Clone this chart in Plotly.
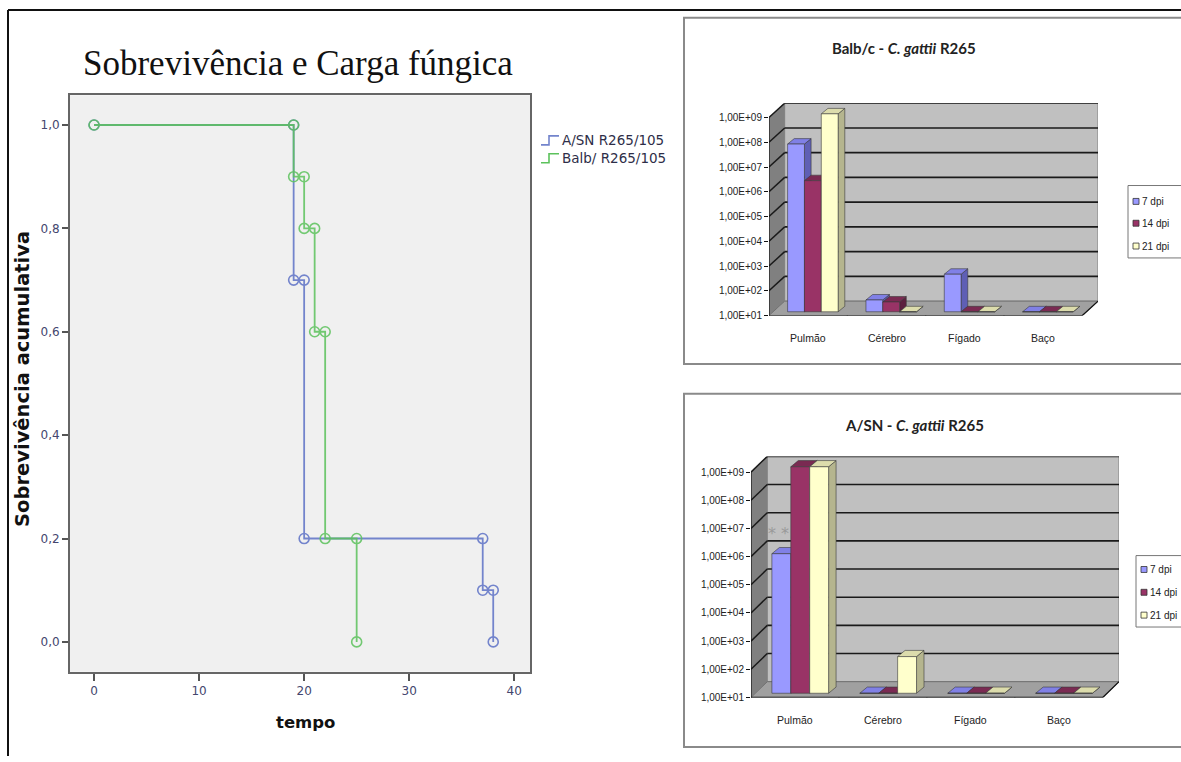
import numpy as np
import plotly.graph_objects as go

W, H = 1181, 762

# ---------------- data ----------------
# Kaplan-Meier survival (tempo, sobrevivência)
asn_label = "A/SN R265/105"
asn_times = [0, 19, 20, 37, 38]
asn_surv = [1.0, 0.7, 0.2, 0.1, 0.0]
balb_label = "Balb/ R265/105"
balb_times = [0, 19, 20, 21, 22, 25]
balb_surv = [1.0, 0.9, 0.8, 0.6, 0.2, 0.0]
surv_xticks = [0, 10, 20, 30, 40]
surv_yticks = [0.0, 0.2, 0.4, 0.6, 0.8, 1.0]

# Fungal burden (UFC), 3D bar charts
organs = ["Pulmão", "Cérebro", "Fígado", "Baço"]
series_names = ["7 dpi", "14 dpi", "21 dpi"]
balb_7 = [6e7, 30, 330, 10]
balb_14 = [2e6, 25, 10, 10]
balb_21 = [1e9, 10, 10, 10]
asn_7 = [9e5, 10, 10, 10]
asn_14 = [1.1e9, 10, 10, 10]
asn_21 = [1.1e9, 200, 10, 10]
exp_ticks = [1, 2, 3, 4, 5, 6, 7, 8, 9]
exp_ticktext = ["1,00E+01", "1,00E+02", "1,00E+03", "1,00E+04", "1,00E+05",
                "1,00E+06", "1,00E+07", "1,00E+08", "1,00E+09"]

# ---------------- style ----------------
C_BLUE = "#7384cc"
C_GREEN = "#5cc25c"
front_cols = ["#9999ff", "#993366", "#ffffcc"]
side_cols = ["#5f5fb5", "#5c1f3e", "#b5b58e"]
top_cols = ["#8080e6", "#7a2a52", "#dcdcac"]
BW = 0.215      # bar width (category units)
SHIFT = 0.06    # bar plane shift in x
BASE_UP = 0.15  # bar plane shift in y (log units)
DDX, DDY = 0.085, 0.22  # bar depth
WALL_DX, WALL_DY = 0.2, 0.58


def px(x):
    return x / W


def py(y):
    return 1 - y / H


fig = go.Figure()


def km_points(times, surv):
    xs, ys = [times[0]], [surv[0]]
    for k in range(1, len(times)):
        xs += [times[k], times[k]]
        ys += [surv[k - 1], surv[k]]
    return xs, ys


for label, t, s, col, op in [(asn_label, asn_times, asn_surv, C_BLUE, 1.0),
                             (balb_label, balb_times, balb_surv, C_GREEN, 0.85)]:
    xs, ys = km_points(t, s)
    fig.add_trace(go.Scatter(
        x=xs, y=ys, mode="lines+markers", name=label, showlegend=False, opacity=op,
        line=dict(color=col, width=1.8),
        marker=dict(symbol="circle-open", size=10, color=col, line=dict(width=1.6)),
        xaxis="x", yaxis="y"))

shapes = []
annotations = []

# survival plot background
shapes.append(dict(type="rect", xref="x domain", yref="y domain", x0=0, x1=1, y0=0, y1=1,
                   fillcolor="#f0f0f0", line=dict(width=0), layer="below"))


def add_bar_chart(axn, data, wall_dx, wall_dy):
    xr, yr = "x%d" % axn, "y%d" % axn
    x_lo, x_hi = -0.5, 3.5
    y_lo, y_hi = 1, 9
    # walls
    shapes.append(dict(type="path", xref=xr, yref=yr, layer="below",
                       path="M %g,%g L %g,%g L %g,%g L %g,%g Z" % (
                           x_lo, y_lo, x_lo + wall_dx, y_lo + wall_dy,
                           x_lo + wall_dx, y_hi + wall_dy, x_lo, y_hi),
                       fillcolor="#808080", line=dict(color="#808080", width=1)))
    shapes.append(dict(type="rect", xref=xr, yref=yr, layer="below",
                       x0=x_lo + wall_dx, x1=x_hi + wall_dx, y0=y_lo + wall_dy, y1=y_hi + wall_dy,
                       fillcolor="#c0c0c0", line=dict(color="#808080", width=1)))
    shapes.append(dict(type="path", xref=xr, yref=yr, layer="below",
                       path="M %g,%g L %g,%g L %g,%g L %g,%g Z" % (
                           x_lo, y_lo, x_hi, y_lo, x_hi + wall_dx, y_lo + wall_dy,
                           x_lo + wall_dx, y_lo + wall_dy),
                       fillcolor="#a0a0a0", line=dict(color="#707070", width=1)))
    for k in exp_ticks[1:]:
        shapes.append(dict(type="line", xref=xr, yref=yr, layer="below",
                           x0=x_lo, y0=k, x1=x_lo + wall_dx, y1=k + wall_dy,
                           line=dict(color="#1a1a1a", width=1.5)))
        shapes.append(dict(type="line", xref=xr, yref=yr, layer="below",
                           x0=x_lo + wall_dx, y0=k + wall_dy, x1=x_hi + wall_dx, y1=k + wall_dy,
                           line=dict(color="#1a1a1a", width=1.6)))
    # axes lines
    shapes.append(dict(type="line", xref=xr, yref=yr, x0=x_lo, y0=y_lo, x1=x_lo, y1=y_hi,
                       line=dict(color="#111", width=1.2)))
    shapes.append(dict(type="line", xref=xr, yref=yr, x0=x_lo, y0=y_lo, x1=x_hi, y1=y_lo,
                       line=dict(color="#111", width=1.2)))
    shapes.append(dict(type="line", xref=xr, yref=yr, x0=x_hi, y0=y_lo,
                       x1=x_hi + wall_dx, y1=y_lo + wall_dy,
                       line=dict(color="#111", width=1.2)))
    # category boundary ticks
    for b in np.arange(x_lo, x_hi + 0.01, 1.0):
        shapes.append(dict(type="line", xref=xr, yref=yr, ysizemode="pixel", yanchor=y_lo,
                           x0=b, x1=b, y0=0, y1=-5, line=dict(color="#111", width=1.2)))
    # category labels
    for i, name in enumerate(organs):
        annotations.append(dict(xref=xr, yref=yr, x=i, y=y_lo, yshift=-23, text=name,
                                xanchor="center", yanchor="middle",
                                showarrow=False, font=dict(family="Liberation Sans", size=10.5,
                                                           color="#222")))
    # bars
    for j, vals in enumerate(data):
        fx, fy, sx, sy, tx, ty = [], [], [], [], [], []
        for i, v in enumerate(vals):
            c = i + (j - 1) * BW + SHIFT
            h = np.log10(v) + BASE_UP
            b = y_lo + BASE_UP
            x0, x1 = c - BW / 2, c + BW / 2
            fx += [x0, x1, x1, x0, x0, None]
            fy += [b, b, h, h, b, None]
            sx += [x1, x1 + DDX, x1 + DDX, x1, x1, None]
            sy += [b, b + DDY, h + DDY, h, b, None]
            tx += [x0, x1, x1 + DDX, x0 + DDX, x0, None]
            ty += [h, h, h + DDY, h + DDY, h, None]
        for xs_, ys_, col in [(sx, sy, side_cols[j]), (tx, ty, top_cols[j]),
                              (fx, fy, front_cols[j])]:
            fig.add_trace(go.Scatter(x=xs_, y=ys_, mode="lines", fill="toself",
                                     fillcolor=col, line=dict(color="#3a3a3a", width=0.6),
                                     showlegend=False, hoverinfo="skip",
                                     name=series_names[j], xaxis=xr, yaxis=yr))


add_bar_chart(2, [balb_7, balb_14, balb_21], WALL_DX, WALL_DY)
add_bar_chart(3, [asn_7, asn_14, asn_21], 0.185, 0.56)

# "**" over A/SN 7 dpi lung bar
annotations.append(dict(xref="x3", yref="y3", x=0 - BW + SHIFT - 0.03,
                        y=np.log10(asn_7[0]) + BASE_UP + 0.7, text="* *", showarrow=False,
                        xanchor="center", yanchor="middle",
                        font=dict(family="DejaVu Sans", size=16, color="#9a9a9a")))

# chart boxes
shapes.append(dict(type="rect", xref="paper", yref="paper", x0=px(684), x1=px(1190),
                   y0=py(367), y1=py(18), line=dict(color="#8a8a8a", width=2)))
shapes.append(dict(type="rect", xref="paper", yref="paper", x0=px(684), x1=px(1190),
                   y0=py(753), y1=py(397), line=dict(color="#8a8a8a", width=2)))
# outer frame
shapes.append(dict(type="line", xref="paper", yref="paper", x0=px(8), x1=px(1181),
                   y0=py(10), y1=py(10), line=dict(color="#111", width=2)))
shapes.append(dict(type="line", xref="paper", yref="paper", x0=px(8), x1=px(8),
                   y0=py(10), y1=py(762), line=dict(color="#111", width=2)))

# bar chart legends
for (bx0, by0, by1, ys) in [(1128, 187, 260, [203, 225, 248]),
                            (1136, 560, 632, [574, 597, 620])]:
    shapes.append(dict(type="rect", xref="paper", yref="paper", x0=px(bx0), x1=px(1195),
                       y0=py(by1), y1=py(by0), fillcolor="white",
                       line=dict(color="#777", width=1)))
    for j, yy in enumerate(ys):
        shapes.append(dict(type="rect", xref="paper", yref="paper", x0=px(bx0 + 5),
                           x1=px(bx0 + 11), y0=py(yy + 3), y1=py(yy - 3),
                           fillcolor=front_cols[j], line=dict(color="#333", width=0.8)))
        annotations.append(dict(xref="paper", yref="paper", x=px(bx0 + 12), y=py(yy),
                                xanchor="left", yanchor="middle", text=series_names[j],
                                showarrow=False,
                                font=dict(family="Liberation Sans", size=10, color="#222")))

# bar chart titles
annotations.append(dict(xref="paper", yref="paper", x=px(904), y=py(48), showarrow=False,
                        xanchor="center", yanchor="middle",
                        text="<b>Balb/c - <i>C. gattii</i> R265</b>",
                        font=dict(family="Lato", size=15, color="#222")))
annotations.append(dict(xref="paper", yref="paper", x=px(915), y=py(428), showarrow=False,
                        xanchor="center", yanchor="middle",
                        text="<b>A/SN - <i>C. gattii</i> R265</b>",
                        font=dict(family="Lato", size=15, color="#222")))

# survival legend (step icons)
for (yy, col, label) in [(141, C_BLUE, asn_label), (159, C_GREEN, balb_label)]:
    shapes.append(dict(type="path", xref="paper", yref="paper",
                       path="M %f,%f L %f,%f L %f,%f L %f,%f" % (
                           px(541), py(yy + 5), px(549), py(yy + 5),
                           px(549), py(yy - 4), px(559), py(yy - 4)),
                       line=dict(color=col, width=1.6)))
    annotations.append(dict(xref="paper", yref="paper", x=px(560), y=py(yy), xanchor="left",
                            yanchor="middle", text=label, showarrow=False,
                            font=dict(family="DejaVu Sans", size=13.5, color="#2e2e48")))

# main title and survival axis titles
annotations.append(dict(xref="paper", yref="paper", x=px(298), y=py(64), showarrow=False,
                        xanchor="center", yanchor="middle",
                        text="Sobrevivência e Carga fúngica",
                        font=dict(family="Liberation Serif", size=35, color="#111")))
annotations.append(dict(xref="paper", yref="paper", x=px(23), y=py(382), showarrow=False,
                        xanchor="center", yanchor="middle",
                        textangle=-90, text="<b>Sobrevivência acumulativa</b>",
                        font=dict(family="DejaVu Sans", size=19.5, color="#111")))
annotations.append(dict(xref="paper", yref="paper", x=px(305), y=py(728), showarrow=False,
                        xanchor="center", yanchor="middle",
                        text="<b>tempo</b>",
                        font=dict(family="DejaVu Sans", size=16.5, color="#111")))

tickfont_s = dict(family="DejaVu Sans", size=12, color="#44466e")
fig.update_layout(
    width=W, height=H, autosize=False, margin=dict(l=0, r=0, t=0, b=0),
    paper_bgcolor="white", plot_bgcolor="rgba(0,0,0,0)", separators=",.",
    showlegend=False, shapes=shapes, annotations=annotations,
    xaxis=dict(domain=[px(70), px(530)], range=[-2.29, 41.5], tickvals=surv_xticks,
               ticks="outside", ticklen=7, tickwidth=2, tickcolor="#555",
               showline=True, mirror=True, linecolor="#666", linewidth=2,
               showgrid=False, zeroline=False, tickfont=tickfont_s, anchor="y"),
    yaxis=dict(domain=[py(677), py(96)], range=[-0.0576, 1.0576], tickvals=surv_yticks,
               tickformat=".1f", ticks="outside", ticklen=6, tickwidth=2, tickcolor="#555",
               showline=True, mirror=True, linecolor="#666", linewidth=2,
               showgrid=False, zeroline=False, tickfont=tickfont_s, anchor="x"),
    xaxis2=dict(domain=[px(769), px(1098)], range=[-0.5, 3.5 + WALL_DX], showticklabels=False,
                ticks="", showgrid=False, zeroline=False, showline=False, anchor="y2"),
    yaxis2=dict(domain=[py(318), py(104)], range=[1, 9 + WALL_DY], tickvals=exp_ticks,
                ticktext=exp_ticktext, ticks="outside", ticklen=4, tickcolor="#111",
                showgrid=False, zeroline=False, showline=False, anchor="x2",
                tickfont=dict(family="Liberation Sans", size=10, color="#222")),
    xaxis3=dict(domain=[px(751), px(1119)], range=[-0.5, 3.5 + 0.185], showticklabels=False,
                ticks="", showgrid=False, zeroline=False, showline=False, anchor="y3"),
    yaxis3=dict(domain=[py(703), py(460)], range=[1, 9 + 0.56], tickvals=exp_ticks,
                ticktext=exp_ticktext, ticks="outside", ticklen=4, tickcolor="#111",
                showgrid=False, zeroline=False, showline=False, anchor="x3",
                tickfont=dict(family="Liberation Sans", size=10, color="#222")),
)

fig.write_html("out.html")
